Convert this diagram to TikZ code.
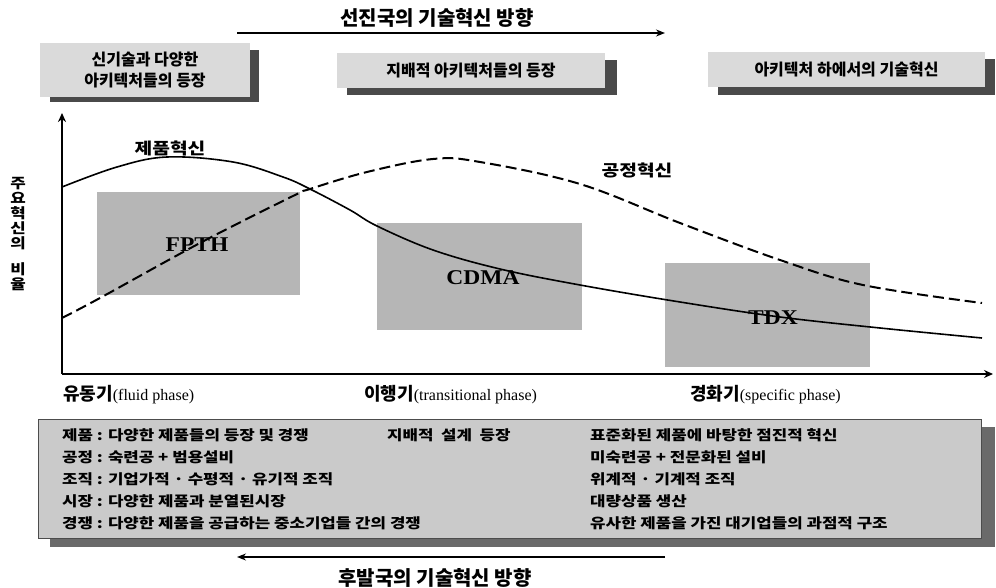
\documentclass[tikz,border=0pt]{standalone}
\usepackage{fontspec}
\newfontfamily\kr{Noto Sans CJK KR}
\newfontfamily\tnr{Liberation Serif}
\usetikzlibrary{arrows.meta}
\definecolor{shad}{HTML}{4A4A4A}
\definecolor{boxlight}{HTML}{DADADA}
\definecolor{boxgray}{HTML}{B6B6B6}
\definecolor{boxbottom}{HTML}{CACACA}
\definecolor{shadb}{HTML}{6A6A6A}
\tikzset{
  titletext/.style={font=\kr\bfseries\fontsize{20}{20}\selectfont},
  topbox/.style={fill=boxlight, inner sep=0pt, align=center, font=\kr\bfseries\fontsize{16}{21}\selectfont},
  graybox/.style={fill=boxgray, inner sep=0pt},
  boxlabel/.style={xscale=1.12, font=\tnr\bfseries\fontsize{21}{21}\selectfont},
  curvelabel/.style={xscale=1.2, font=\kr\bfseries\fontsize{16}{16}\selectfont},
  phase/.style={anchor=west, inner sep=0pt},
  rowtext/.style={anchor=west, inner sep=0pt, xscale=1.2, font=\kr\bfseries\fontsize{14}{14}\selectfont},
  dirarrow/.style={line width=1.3pt, -{Stealth[length=9pt,width=7pt]}},
  axis/.style={line width=2.4pt, -{Stealth[length=9pt,width=8pt]}},
  prodcurve/.style={line width=1.6pt},
  proccurve/.style={line width=2pt, dash pattern=on 11pt off 5pt},
}
\newcommand{\kph}[2]{{\kr\bfseries\fontsize{18}{18}\selectfont #1}{\tnr\fontsize{16}{16}\selectfont(#2)}}
\begin{document}
\begin{tikzpicture}[x=1pt,y=-1pt]
\useasboundingbox (0,0) rectangle (996,588);
\fill[white] (0,0) rectangle (996,588);

% top title and arrow
\node[titletext] (toptitle) at (437,18) {선진국의 기술혁신 방향};
\coordinate (ta1) at (237,33);
\coordinate (ta2) at (665,33);
\draw[dirarrow] (ta1) -- (ta2);

% top boxes
\fill[shad] (50,50) rectangle (259,102);
\node[topbox, minimum width=210, minimum height=54] (b1) at (145,70) {신기술과 다양한\\아키텍처들의 등장};
\fill[shad] (347,60) rectangle (617,95);
\node[topbox, minimum width=268, minimum height=35] (b2) at (471,70.5) {지배적 아키텍처들의 등장};
\fill[shad] (718,59) rectangle (995,95);
\node[topbox, minimum width=277, minimum height=35] (b3) at (846.5,69.5) {아키텍처 하에서의 기술혁신};

% gray boxes
\node[graybox, minimum width=203, minimum height=103] (g1) at (198.5,243.5) {};
\node[graybox, minimum width=205, minimum height=107] (g2) at (479.5,276.5) {};
\node[graybox, minimum width=205, minimum height=104] (g3) at (767.5,315) {};

% axes
\coordinate (org) at (62,374);
\coordinate (ytop) at (62,113);
\coordinate (xend) at (993,374);
\draw[axis] (org) -- (ytop);
\draw[axis] (org) -- (xend);

% curves
\draw[prodcurve] plot[smooth, tension=0.6] coordinates {(62,187) (117,167) (167,157) (233,162) (283,177) (310,189) (350,210) (377,226) (433,250) (500,269) (580,285) (680,302) (780,317) (880,328) (982,338)};
\draw[proccurve] plot[smooth, tension=0.6] coordinates {(62,318) (100,298) (200,243) (293,196) (310,189) (367,172) (433,159) (480,162) (580,184) (680,223) (780,260) (863,285) (982,303)};

% box labels
\node[boxlabel] (l1) at (197,245) {FPTH};
\node[boxlabel] (l2) at (483,278) {CDMA};
\node[boxlabel] (l3) at (773,318) {TDX};

% curve labels
\node[curvelabel] (c1) at (170,148) {제품혁신};
\node[curvelabel] (c2) at (637,170) {공정혁신};

% y axis label (stacked upright characters)
\node[align=center, inner sep=0pt, xscale=1.2, font=\kr\bfseries\fontsize{14}{15}\selectfont] (ylab) at (18,234) {주\\요\\혁\\신\\의\\[11pt]비\\율};

% phase labels
\node[phase] (p1) at (63,395) {\kph{유동기}{fluid phase}};
\node[phase] (p2) at (364,395) {\kph{이행기}{transitional phase}};
\node[phase] (p3) at (690,395) {\kph{경화기}{specific phase}};

% bottom box
\fill[shadb] (50,427) rectangle (995,547);
\node[draw=black!70, line width=0.8pt, fill=boxbottom, minimum width=943, minimum height=119, inner sep=0pt] (bb) at (509.5,478.5) {};

\node[rowtext] (r1) at (62,435) {제품 : 다양한 제품들의 등장 및 경쟁};
\node[rowtext] (r2) at (62,457) {공정 : 숙련공 + 범용설비};
\node[rowtext] (r3) at (62,479) {조직 : 기업가적 · 수평적 · 유기적 조직};
\node[rowtext] (r4) at (62,501) {시장 : 다양한 제품과 분열된시장};
\node[rowtext] (r5) at (62,523) {경쟁 : 다양한 제품을 공급하는 중소기업들 간의 경쟁};
\node[rowtext] (m1) at (387,435) {지배적\hspace{0.45em}설계\hspace{0.45em}등장};
\node[rowtext] (s1) at (590,435) {표준화된 제품에 바탕한 점진적 혁신};
\node[rowtext] (s2) at (590,457) {미숙련공 + 전문화된 설비};
\node[rowtext] (s3) at (590,479) {위계적 · 기계적 조직};
\node[rowtext] (s4) at (590,501) {대량상품 생산};
\node[rowtext] (s5) at (590,523) {유사한 제품을 가진 대기업들의 과점적 구조};

% bottom arrow and title
\coordinate (ba1) at (665,557);
\coordinate (ba2) at (237,557);
\draw[dirarrow] (ba1) -- (ba2);
\node[titletext] (bottitle) at (435,578) {후발국의 기술혁신 방향};
\end{tikzpicture}
\end{document}
